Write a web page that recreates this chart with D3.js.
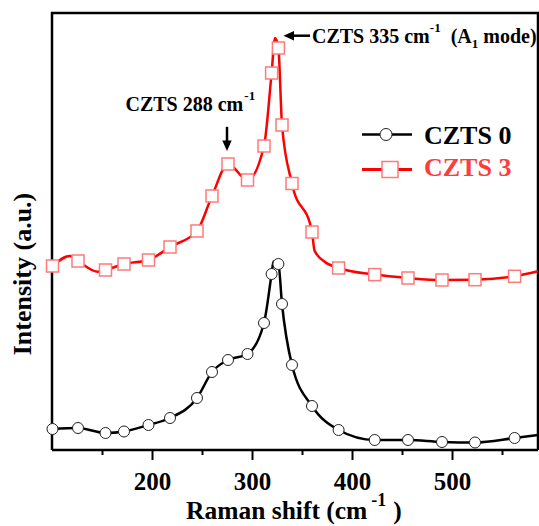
<!DOCTYPE html>
<html>
<head>
<meta charset="utf-8">
<script src="https://cdn.jsdelivr.net/npm/d3@7"></script>
<style>
  html, body { margin: 0; padding: 0; background: #fff; }
  svg { display: block; }
  text { font-family: "Liberation Serif", "Times New Roman", serif; font-weight: bold; }
</style>
</head>
<body>
<svg id="chart" width="539" height="526"></svg>
<script>
// ---- data ----
const markerShift = [100.5,126,153.5,172,196.5,218,245,260,276,295.5,312,319.6,326.4,330,340,360,386.6,422.7,456,490,523,562.6];
const czts0Markers = [21,22,17,18.5,25,32,52,78,90,96,127,176,186,146,85,44,20,10,10,8,7.5,12];
const czts3Markers = [184,189,180,186,190,203,219,254,286,270,304,377,402,325,266.5,218,182,175.4,172,170,170.3,173.7];

const czts0LineShift = [100.5,126,153.5,172,196.5,218,245,260,276,295.5,312,319.6,321.5,326.4,330,340,360,386.6,422.7,456,490,523,562.6,586];
const czts0Line      = [21,22,17,18.5,25,32,52,78,90,96,127,176,188.5,186,146,85,44,20,10,10,8,7.5,12,15];

const czts3LineShift = [100.5,118,126,146,153.5,172,196.5,218,245,260,276,295.5,312,319.6,323,326.4,330,340,360,362.5,373,386.6,422.7,456,490,523,562.6,586];
const czts3Line      = [184,194,189,178.3,180,186,190,203,219,254,286,270,304,377,412,402,325,266.5,218,199.5,188,182,175.4,172,170,170.3,173.7,178.7];

const majorTicks = [200,300,400,500];
const minorTicks = [150,250,350,450,550];
const seriesNames = ["CZTS 0","CZTS 3"];

// ---- layout ----
const svg = d3.select("#chart");
const L = 52, R = 538, T = 13, B = 450;
const x = d3.scaleLinear().domain([100, 586]).range([L, R]);
const y = d3.scaleLinear().domain([0, 437]).range([B, T]);

// frame (top & right)
svg.append("path")
  .attr("d", `M${L},${B} L${L},${T} L${R},${T} L${R},${B}`)
  .attr("fill","none").attr("stroke","#000").attr("stroke-width",2.5);

// x axis
const xAxis = d3.axisBottom(x).tickValues(majorTicks).tickSize(10).tickPadding(12).tickFormat(d3.format("d"));
const gx = svg.append("g").attr("transform",`translate(0,${B})`).call(xAxis);
gx.select(".domain").attr("stroke-width",2.5).attr("d",`M${L},0H${R}`);
gx.selectAll(".tick line").attr("stroke-width",2);
gx.selectAll(".tick text").attr("font-size",25).attr("font-family","Liberation Serif").attr("font-weight","bold").attr("fill","#000");
const xMinor = d3.axisBottom(x).tickValues(minorTicks).tickSize(5).tickFormat("");
const gm = svg.append("g").attr("transform",`translate(0,${B})`).call(xMinor);
gm.select(".domain").remove();
gm.selectAll(".tick line").attr("stroke-width",2);

// lines
const line = d3.line().x(d => x(d[0])).y(d => y(d[1])).curve(d3.curveMonotoneX);
svg.append("path").datum(d3.zip(czts0LineShift, czts0Line))
  .attr("d", line).attr("fill","none").attr("stroke","#000").attr("stroke-width",2.5);
svg.append("path").datum(d3.zip(czts3LineShift, czts3Line))
  .attr("d", line).attr("fill","none").attr("stroke","#ff0000").attr("stroke-width",2.5);

// markers
svg.append("g").selectAll("circle").data(d3.zip(markerShift, czts0Markers)).join("circle")
  .attr("cx", d => x(d[0])).attr("cy", d => y(d[1])).attr("r",5.5)
  .attr("fill","#fff").attr("stroke","#222").attr("stroke-width",1);
const sq = 12;
svg.append("g").selectAll("rect").data(d3.zip(markerShift, czts3Markers)).join("rect")
  .attr("x", d => x(d[0]) - sq/2).attr("y", d => y(d[1]) - sq/2)
  .attr("width", sq).attr("height", sq)
  .attr("fill","#fff").attr("stroke","#ff7a7a").attr("stroke-width",1.5);

// legend
const lg = svg.append("g");
lg.append("line").attr("x1",362).attr("x2",412).attr("y1",134.5).attr("y2",134.5).attr("stroke","#000").attr("stroke-width",2.5);
lg.append("circle").attr("cx",386).attr("cy",134.5).attr("r",6).attr("fill","#fff").attr("stroke","#222").attr("stroke-width",1);
lg.append("text").attr("x",424).attr("y",143.5).attr("font-size",26).attr("fill","#000").text(seriesNames[0]);
lg.append("line").attr("x1",362).attr("x2",412).attr("y1",169.5).attr("y2",169.5).attr("stroke","#ff0000").attr("stroke-width",3);
lg.append("rect").attr("x",382).attr("y",161.5).attr("width",16).attr("height",16).attr("fill","#fff").attr("stroke","#ff7a7a").attr("stroke-width",1.5);
lg.append("text").attr("x",424).attr("y",176).attr("font-size",26).attr("fill","#ff3b3b").text(seriesNames[1]);

// annotation 1
const a1 = svg.append("text").attr("x",312).attr("y",43).attr("font-size",20).attr("fill","#000");
a1.append("tspan").text("CZTS 335 cm");
a1.append("tspan").attr("font-size",13).attr("dy",-11).text("-1");
a1.append("tspan").attr("dy",11).attr("dx",10).text("(A");
a1.append("tspan").attr("font-size",13).attr("dy",5).text("1");
a1.append("tspan").attr("dy",-5).attr("dx",5).text("mode)");
svg.append("line").attr("x1",310).attr("x2",292).attr("y1",35.7).attr("y2",35.7).attr("stroke","#000").attr("stroke-width",2.5);
svg.append("path").attr("d","M283.5,35.7 L294,31 L294,40.4 Z").attr("fill","#000");

// annotation 2
const a2 = svg.append("text").attr("x",125.5).attr("y",110.7).attr("font-size",20).attr("fill","#000");
a2.append("tspan").text("CZTS 288 cm");
a2.append("tspan").attr("font-size",13).attr("dy",-11).attr("dx",1).text("-1");
svg.append("line").attr("x1",227).attr("x2",227).attr("y1",126.8).attr("y2",142).attr("stroke","#000").attr("stroke-width",2.5);
svg.append("path").attr("d","M227,151 L222.3,140.5 L231.7,140.5 Z").attr("fill","#000");

// axis titles
const xt = svg.append("text").attr("x",186).attr("y",519).attr("font-size",25.5).attr("fill","#000");
xt.append("tspan").text("Raman shift (cm");
xt.append("tspan").attr("font-size",18).attr("dy",-13).attr("dx",4).text("-1");
xt.append("tspan").attr("dy",13).attr("dx",7).text(")");

svg.append("text").attr("transform","translate(31,274) rotate(-90)").attr("text-anchor","middle")
  .attr("font-size",26).attr("fill","#000").text("Intensity (a.u.)");
</script>
</body>
</html>
